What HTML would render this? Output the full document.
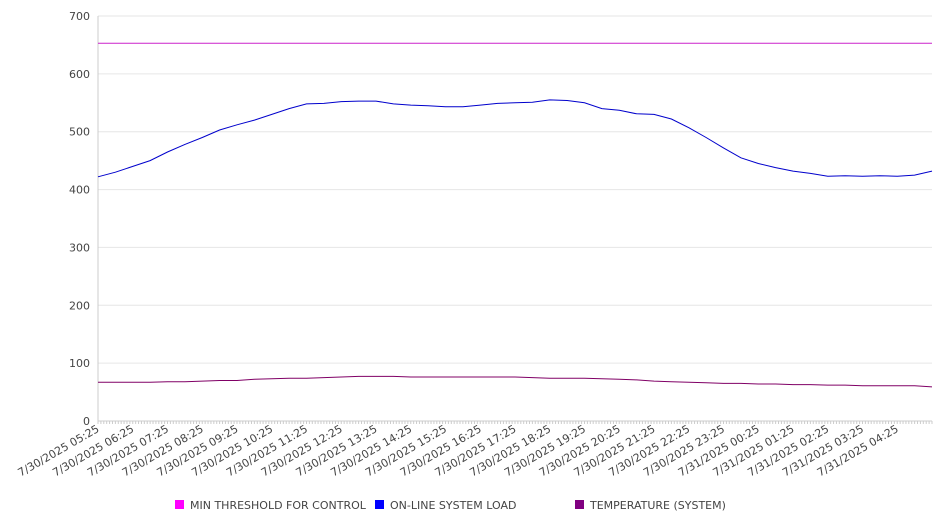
<!DOCTYPE html>
<html><head><meta charset="utf-8"><style>
body{margin:0;background:#fff;font-family:"DejaVu Sans","Liberation Sans",sans-serif;}
svg text{fill:#444;font-size:11px;font-family:"DejaVu Sans","Liberation Sans",sans-serif;}
</style></head><body>
<svg id="c" width="946" height="526"></svg>
<script>
const hourLabels=["7/30/2025 05:25","7/30/2025 06:25","7/30/2025 07:25","7/30/2025 08:25","7/30/2025 09:25","7/30/2025 10:25","7/30/2025 11:25","7/30/2025 12:25","7/30/2025 13:25","7/30/2025 14:25","7/30/2025 15:25","7/30/2025 16:25","7/30/2025 17:25","7/30/2025 18:25","7/30/2025 19:25","7/30/2025 20:25","7/30/2025 21:25","7/30/2025 22:25","7/30/2025 23:25","7/31/2025 00:25","7/31/2025 01:25","7/31/2025 02:25","7/31/2025 03:25","7/31/2025 04:25"];
const yTicks=[0,100,200,300,400,500,600,700];
// values every 30 minutes (hours from start)
const loadValues=[422,430,440,450,465,478,490,503,512,520,530,540,548,549,552,553,553,548,546,545,543,543,546,549,550,551,555,554,550,540,537,531,530,522,507,490,472,455,445,438,432,428,423,424,423,424,423,425,432];
const tempValues=[67,67,67,67,68,68,69,70,70,72,73,74,74,75,76,77,77,77,76,76,76,76,76,76,76,75,74,74,74,73,72,71,69,68,67,66,65,65,64,64,63,63,62,62,61,61,61,61,59];
const thresholdValue=653;
const svg=document.getElementById('c');const NS='http://www.w3.org/2000/svg';
const L=98,R=932,T=16,B=421;
const x=h=>L+(R-L)*h/24, y=v=>B-(B-T)*v/700;
function mk(t,a,p){const e=document.createElementNS(NS,t);for(const k in a)e.setAttribute(k,a[k]);(p||svg).appendChild(e);return e;}
yTicks.forEach(v=>{
 if(v>0){const g=mk('line',{x1:L,x2:R,y1:y(v),y2:y(v),stroke:'#e6e6e6'});
 
 }
 const t=mk('text',{x:L-8,y:y(v)+4,'text-anchor':'end'});t.textContent=v;
 
 
});
const ax=mk('line',{x1:L,x2:L,y1:T,y2:B,stroke:'#ccc'});


const xa=mk('line',{x1:L,x2:R,y1:B,y2:B,stroke:'#ccc'});


for(let i=0;i<=288;i++){const xx=L+(R-L)*i/288;mk('line',{x1:xx,x2:xx,y1:B,y2:B+3,stroke:'#ccc'});}
hourLabels.forEach((s,i)=>{const t=mk('text',{x:0,y:0,'text-anchor':'end',transform:`translate(${x(i)+2},${B+10}) rotate(-30)`});t.textContent=s;
 
 });
function line(vals,col,name){const p=vals.map((v,i)=>x(i*24/(vals.length-1)).toFixed(1)+','+y(v).toFixed(1)).join(' ');
 const e=mk('polyline',{points:p,fill:'none',stroke:col,'stroke-width':1});
 
 }
line([thresholdValue,thresholdValue],'#cc22cc','threshold-line');
line(tempValues,'#800066','temperature-line');
line(loadValues,'#0000cc','load-line');
const leg=[['#ff00ff','MIN THRESHOLD FOR CONTROL',175],['#0000ff','ON-LINE SYSTEM LOAD',375],['#800080','TEMPERATURE (SYSTEM)',575]];
leg.forEach(([c,s,lx])=>{const g=mk('g',{});
 
 
 mk('rect',{x:lx,y:500,width:9,height:9,fill:c},g);const t=mk('text',{x:lx+15,y:509},g);t.textContent=s;});
</script>
</body></html>
